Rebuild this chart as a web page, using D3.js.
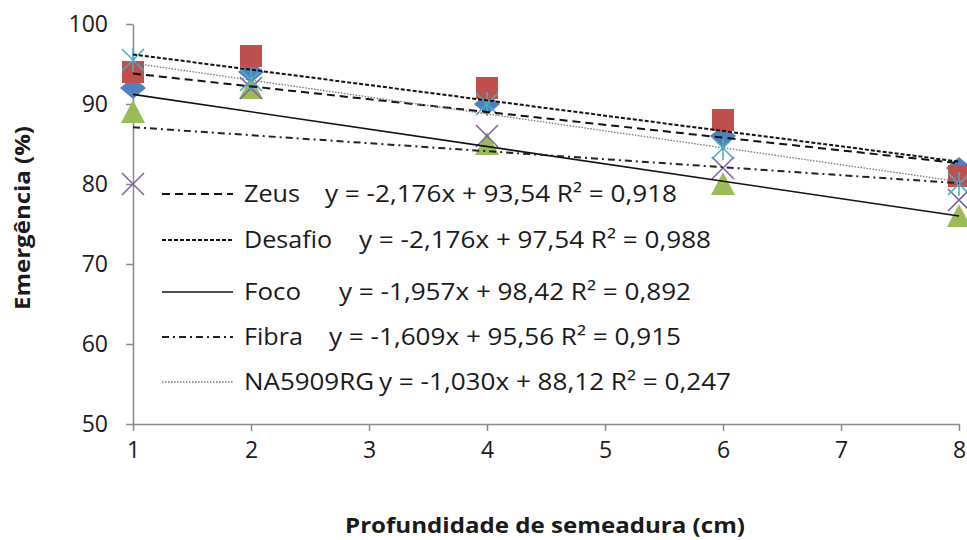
<!DOCTYPE html>
<html>
<head>
<meta charset="utf-8">
<script src="https://cdn.jsdelivr.net/npm/d3@7"></script>
<style>
  body { margin: 0; background: #fff; }
  text { font-family: "Open Sans", "Noto Sans", sans-serif; }
</style>
</head>
<body>
<svg id="chart" width="967" height="540"></svg>
<script>
// depth (cm)
var depths = [1, 2, 4, 6, 8];
var xTicks = [1, 2, 3, 4, 5, 6, 7, 8];
var yTicks = [50, 60, 70, 80, 90, 100];

// observed emergence (%) per marker series
var seriesNames = ['Zeus', 'Desafio', 'Foco', 'Fibra', 'NA5909RG'];
var zeusVals = [92, 94, 90, 86, 82];
var desafioVals = [94, 96, 92, 88, 81];
var focoVals = [89, 92, 85, 80, 76];
var purpleVals = [80, 92, 86, 82, 78];
var cyanVals = [95.5, 93, 90, 84.5, 80];

// trend lines: value at x=1 and at x=8, as drawn
var trendStart = [93.8, 96.2, 91.2, 87.1, 95.1];
var trendEnd = [82.6, 82.8, 76.0, 80.1, 80.3];
var equations = [
  'y = -2,176x + 93,54 R\u00b2 = 0,918',
  'y = -2,176x + 97,54 R\u00b2 = 0,988',
  'y = -1,957x + 98,42 R\u00b2 = 0,892',
  'y = -1,609x + 95,56 R\u00b2 = 0,915',
  'y = -1,030x + 88,12 R\u00b2 = 0,247'
];

(function() {
  var svg = d3.select('#chart');
  var x = d3.scaleLinear().domain([1, 8]).range([133, 959]);
  var y = d3.scaleLinear().domain([50, 100]).range([424, 24]);
  var axisColor = '#8a8a8a';
  var ink = '#1a1a1a';

  // axes
  var yAxis = svg.append('g').attr('transform', 'translate(133,0)')
    .call(d3.axisLeft(y).tickValues(yTicks).tickFormat(d3.format('d'))
      .tickSize(7).tickSizeOuter(0).tickPadding(18));
  var xAxis = svg.append('g').attr('transform', 'translate(0,424)')
    .call(d3.axisBottom(x).tickValues(xTicks).tickFormat(d3.format('d'))
      .tickSize(7).tickSizeOuter(0).tickPadding(11));
  [yAxis, xAxis].forEach(function(ax) {
    ax.select('.domain').attr('stroke', axisColor).attr('stroke-width', 1.5);
    ax.selectAll('.tick line').attr('stroke', axisColor).attr('stroke-width', 1.5);
    ax.selectAll('.tick text').attr('fill', ink)
      .style('font-size', '23px');
  });

  // axis titles
  svg.append('text')
    .attr('transform', 'translate(30,218) rotate(-90)')
    .attr('text-anchor', 'middle')
    .attr('textLength', 184).attr('lengthAdjust', 'spacingAndGlyphs')
    .style('font-size', '22px').style('font-weight', 'bold').attr('fill', ink)
    .text('Emergência (%)');
  svg.append('text')
    .attr('x', 545).attr('y', 533)
    .attr('text-anchor', 'middle')
    .attr('textLength', 400).attr('lengthAdjust', 'spacingAndGlyphs')
    .style('font-size', '22px').style('font-weight', 'bold').attr('fill', ink)
    .text('Profundidade de semeadura (cm)');

  // markers
  var sz = 22;
  function pts(vals) { return vals.map(function(v, i) { return { x: depths[i], y: v }; }); }
  function at(d) { return 'translate(' + x(d.x) + ',' + y(d.y) + ')'; }

  svg.append('g').selectAll('path').data(pts(zeusVals)).join('path')
    .attr('transform', at)
    .attr('d', 'M0,-11L13,0L0,11L-13,0Z').attr('fill', '#4f81bd');

  svg.append('g').selectAll('rect').data(pts(desafioVals)).join('rect')
    .attr('x', function(d) { return x(d.x) - sz / 2; })
    .attr('y', function(d) { return y(d.y) - sz / 2; })
    .attr('width', sz).attr('height', sz).attr('fill', '#c0504d');

  svg.append('g').selectAll('path').data(pts(focoVals)).join('path')
    .attr('transform', at)
    .attr('d', 'M0,-12L12,11L-12,11Z').attr('fill', '#9bbb59');

  svg.append('g').selectAll('path').data(pts(purpleVals)).join('path')
    .attr('transform', at)
    .attr('d', 'M-11,-11L11,11M-11,11L11,-11')
    .attr('stroke', '#8064a2').attr('stroke-width', 1.6).attr('fill', 'none');

  svg.append('g').selectAll('path').data(pts(cyanVals)).join('path')
    .attr('transform', at)
    .attr('d', 'M-11,-11L11,11M-11,11L11,-11M0,-12L0,12')
    .attr('stroke', '#4bacc6').attr('stroke-width', 1.6).attr('fill', 'none');

  // trend lines
  var dashes = ['8,5', '4,2', null, '7,4,2,4', '1.5,1.5'];
  var widths = [2, 2, 1.6, 2, 1.3];
  var colors = ['#111', '#111', '#111', '#222', '#777'];
  var line = d3.line().x(function(d) { return x(d[0]); }).y(function(d) { return y(d[1]); });
  svg.append('g').selectAll('path').data(seriesNames).join('path')
    .attr('d', function(d, i) { return line([[1, trendStart[i]], [8, trendEnd[i]]]); })
    .attr('fill', 'none')
    .attr('stroke', function(d, i) { return colors[i]; })
    .attr('stroke-width', function(d, i) { return widths[i]; })
    .attr('stroke-dasharray', function(d, i) { return dashes[i]; });

  // legend
  var rowY = [194, 240, 292, 337, 382];
  var eqX = [325, 359, 339, 329, 379];
  var nameW = [56, 88, 57, 59, 130];
  var leg = svg.append('g');
  seriesNames.forEach(function(name, i) {
    leg.append('line')
      .attr('x1', 162).attr('x2', 233).attr('y1', rowY[i]).attr('y2', rowY[i])
      .attr('stroke', colors[i]).attr('stroke-width', widths[i])
      .attr('stroke-dasharray', dashes[i]);
    leg.append('text').attr('x', 244).attr('y', rowY[i]).attr('dy', '0.36em')
      .attr('textLength', nameW[i]).attr('lengthAdjust', 'spacingAndGlyphs')
      .style('font-size', '23px').attr('fill', ink).text(name);
    leg.append('text').attr('x', eqX[i]).attr('y', rowY[i]).attr('dy', '0.36em')
      .attr('textLength', 352).attr('lengthAdjust', 'spacingAndGlyphs')
      .style('font-size', '23px').attr('fill', ink).text(equations[i]);
  });
}());
</script>
</body>
</html>
